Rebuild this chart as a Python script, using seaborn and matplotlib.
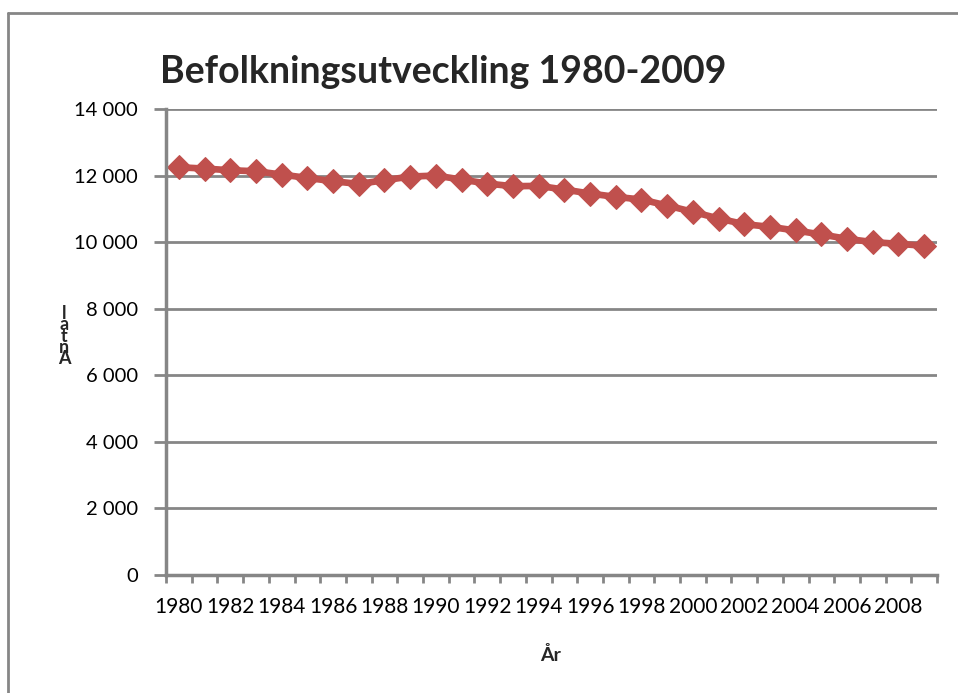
import matplotlib
matplotlib.use("Agg")
import matplotlib.pyplot as plt
import matplotlib.ticker as mticker
from matplotlib.lines import Line2D
import seaborn as sns
import pandas as pd

years = list(range(1980, 2010))
population = [12250, 12210, 12160, 12130, 12030, 11930, 11830, 11750, 11860, 11970,
              12000, 11880, 11760, 11680, 11690, 11580, 11460, 11360, 11280, 11100,
              10910, 10710, 10540, 10460, 10350, 10230, 10100, 10000, 9950, 9890]
title = "Befolkningsutveckling 1980-2009"
xlabel = "År"
ylabel = "Antal"
ytick_values = [0, 2000, 4000, 6000, 8000, 10000, 12000, 14000]
xtick_labels = [str(y) for y in range(1980, 2009, 2)]

sns.set_theme(style="white")
plt.rcParams["font.family"] = ["Lato", "DejaVu Sans"]

GRAY = "#868686"
RED = "#C0504D"

df = pd.DataFrame({"year": years, "population": population})

fig = plt.figure(figsize=(9.58, 6.93), dpi=100)
ax = fig.add_axes([166/958, 1 - 575/693, 771/958, 466/693])

sns.lineplot(data=df, x="year", y="population", ax=ax, color=RED, linewidth=4.8,
             marker="D", markersize=12, markeredgecolor=RED, markerfacecolor=RED)

ax.set_xlim(years[0] - 0.5, years[-1] + 0.5)
ax.set_ylim(0, 14000)

# category boundaries as major ticks, labels at even years as minor ticks
ax.xaxis.set_major_locator(mticker.FixedLocator([y - 0.5 for y in years] + [years[-1] + 0.5]))
ax.xaxis.set_major_formatter(mticker.NullFormatter())
ax.xaxis.set_minor_locator(mticker.FixedLocator([int(s) for s in xtick_labels]))
ax.xaxis.set_minor_formatter(mticker.FixedFormatter(xtick_labels))
ax.tick_params(axis="x", which="major", length=6, width=2, color=GRAY, direction="out", bottom=True)
ax.tick_params(axis="x", which="minor", length=0, pad=16, labelsize=15, labelcolor="black", bottom=True)

ax.set_yticks(ytick_values)
ax.yaxis.set_major_formatter(mticker.FuncFormatter(lambda v, p: f"{int(v):,}".replace(",", " ")))
ax.tick_params(axis="y", length=9, width=2, color=GRAY, direction="out", pad=11,
               labelsize=14.5, labelcolor="black", left=True)

ax.grid(axis="y", color=GRAY, linewidth=2)
ax.grid(axis="x", visible=False)
for s in ["top", "right"]:
    ax.spines[s].set_visible(False)
for s in ["left", "bottom"]:
    ax.spines[s].set_color(GRAY)
    ax.spines[s].set_linewidth(2.5)
ax.set_axisbelow(True)

ax.set_xlabel("")
ax.set_ylabel("")

fig.text(160/958, 1 - 72/693, title, fontsize=27, fontweight="bold", ha="left", va="center")
fig.text(551/958, 1 - 655/693, xlabel, fontsize=14, fontweight="bold", ha="center", va="center")
fig.text(64/958, 1 - 336/693, "\n".join(reversed(ylabel)), fontsize=13, fontweight="bold",
         ha="center", va="center", linespacing=0.58)

# outer frame (top and left edges)
fig.add_artist(Line2D([8/958, 1.0], [1 - 13/693, 1 - 13/693], color=GRAY, linewidth=2, transform=fig.transFigure))
fig.add_artist(Line2D([8/958, 8/958], [0, 1 - 13/693], color=GRAY, linewidth=2, transform=fig.transFigure))

fig.savefig("out.png", dpi=100)
